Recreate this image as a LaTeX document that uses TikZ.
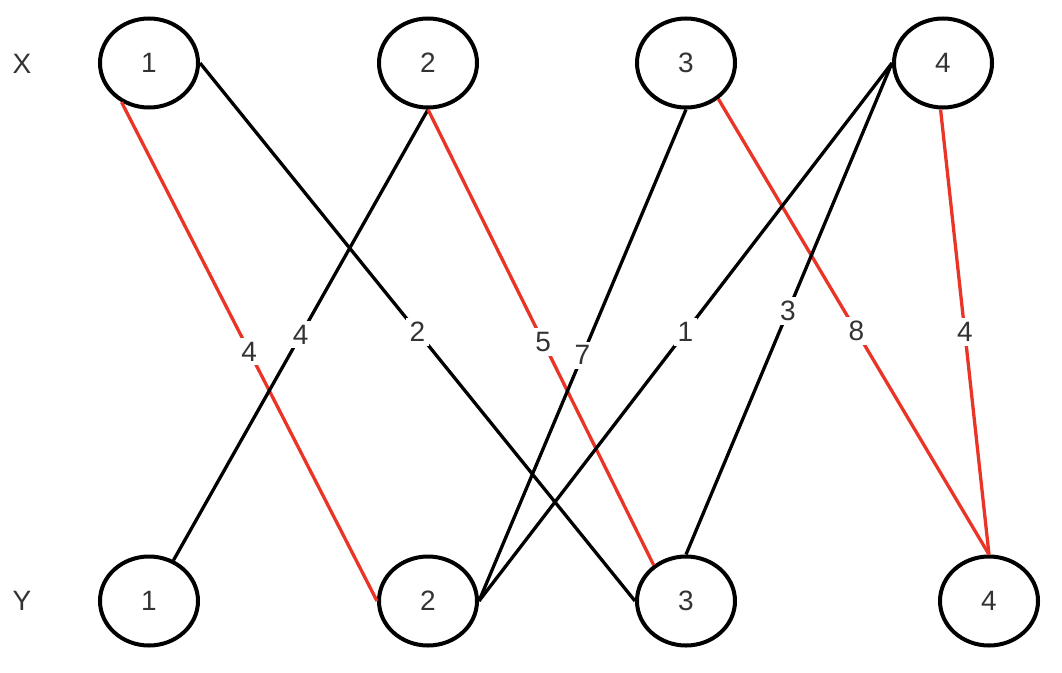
\documentclass[tikz,border=0pt]{standalone}
\usepackage{fontspec}
\setmainfont{Liberation Sans}
\usetikzlibrary{shapes.geometric}
\definecolor{edgered}{RGB}{234,52,38}
\definecolor{txtgray}{RGB}{51,51,51}
\tikzset{
  vert/.style={ellipse, draw=black, line width=4pt, minimum width=98pt, minimum height=89pt, inner sep=0pt, font=\fontsize{28}{31}\selectfont, text=txtgray},
  side/.style={font=\fontsize{28}{31}\selectfont, text=txtgray},
  blk/.style={draw=black, line width=3.3pt},
  redl/.style={draw=edgered, line width=3.3pt},
  wlab/.style={fill=white, inner sep=4pt, font=\fontsize{28}{31}\selectfont, text=txtgray}
}
\begin{document}
\begin{tikzpicture}[x=1pt,y=-1pt]
\useasboundingbox (0,0) rectangle (1062,672);
\node[side] (LX) at (22,64) {X};
\node[side] (LY) at (22,601) {Y};
\node[vert] (X1) at (149,63) {1};
\node[vert] (X2) at (428,63) {2};
\node[vert] (X3) at (686,63) {3};
\node[vert] (X4) at (943,63) {4};
\node[vert] (Y1) at (149,601) {1};
\node[vert] (Y2) at (428,601) {2};
\node[vert] (Y3) at (686,601) {3};
\node[vert] (Y4) at (989,601) {4};
\draw[redl] (X1.-125) -- node[wlab,pos=0.5]{4} (Y2.west);
\draw[blk] (X1.east) -- node[wlab,pos=0.5]{2} (Y3.west);
\draw[blk] (X2.south) -- node[wlab,pos=0.5]{4} (Y1.59);
\draw[redl] (X2.south) -- node[wlab,pos=0.51]{5} (Y3.132);
\draw[blk] (X3.south) -- node[wlab,pos=0.5]{7} (Y2.east);
\draw[redl] (X3.-48) -- node[wlab,pos=0.51]{8} (Y4.north);
\draw[blk] (X4.west) -- node[wlab,pos=0.5]{1} (Y2.east);
\draw[blk] (X4.west) -- node[wlab,pos=0.505]{3} (Y3.north);
\draw[redl] (X4.-93) -- node[wlab,pos=0.5]{4} (Y4.north);
\end{tikzpicture}
\end{document}
